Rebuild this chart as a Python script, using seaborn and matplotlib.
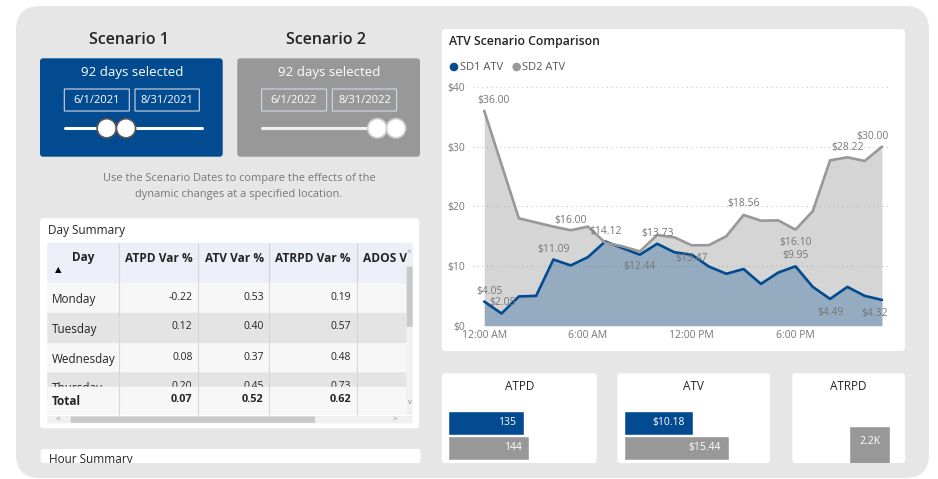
import matplotlib.pyplot as plt
import matplotlib.patches as mpatches
import seaborn as sns
import pandas as pd

# ==================== data ====================
hours = list(range(24))
sd1_atv = [4.05, 2.05, 4.9, 5.0, 11.09, 10.1, 11.5, 14.12, 13.0, 11.9, 13.73, 12.3,
           11.9, 9.9, 8.7, 9.5, 7.0, 8.9, 9.95, 6.5, 4.49, 6.5, 5.0, 4.32]
sd2_atv = [36.00, 27.0, 18.0, 17.3, 16.6, 16.00, 16.6, 13.9, 13.3, 12.44, 15.2, 14.8,
           13.47, 13.5, 15.0, 18.56, 17.6, 17.65, 16.10, 19.2, 27.7, 28.22, 27.6, 30.00]
hour_ticks = [0, 6, 12, 18]
hour_tick_labels = ['12:00 AM', '6:00 AM', '12:00 PM', '6:00 PM']
atv_ticks = [0, 10, 20, 30, 40]

# which points carry a data label: (hour, dx px, dy px)
sd1_labels = [(0, 5, 10), (1, 1, 11), (4, 0, 10), (7, 0, 10), (10, 0, 10),
              (18, 0, 11), (20, 0, -14), (23, -7, -14)]
sd2_labels = [(0, 9, 10), (5, 0, 10), (9, 0, -15), (12, 0, -13), (15, 0, 11),
              (18, 0, -13), (21, 0, 10), (23, -9, 10)]

days = ['Monday', 'Tuesday', 'Wednesday', 'Thursday']
atpd_var = [-0.22, 0.12, 0.08, 0.20]
atv_var = [0.53, 0.40, 0.37, 0.45]
atrpd_var = [0.19, 0.57, 0.48, 0.73]
total_var = [0.07, 0.52, 0.62]
table_cols = ['ATPD Var %', 'ATV Var %', 'ATRPD Var %']

card_series = ['SD1', 'SD2']
atpd_vals = [135, 144]
atv_vals = [10.18, 15.44]
atrpd_sd2 = 2200

BLUE = '#034b90'
GRAY = '#989898'
PANEL = '#e6e6e6'
TXT = '#252423'
MUTED = '#777777'

sns.set_theme(style='white')
plt.rcParams['font.family'] = ['Open Sans', 'DejaVu Sans']

W, H = 938, 479
fig = plt.figure(figsize=(W / 100, H / 100), dpi=100, facecolor='white')

# base axes in pixel coordinates for the dashboard frame
bg = fig.add_axes([0, 0, 1, 1])
bg.set_xlim(0, W)
bg.set_ylim(H, 0)
bg.axis('off')


def box(x0, y0, x1, y1):
    return [x0 / W, 1 - y1 / H, (x1 - x0) / W, (y1 - y0) / H]


def rect(x0, y0, x1, y1, fc, ec='none', lw=0, r=0, z=1):
    p = mpatches.FancyBboxPatch((x0, y0), x1 - x0, y1 - y0,
                                boxstyle=f'round,pad=0,rounding_size={r}',
                                fc=fc, ec=ec, lw=lw, zorder=z)
    bg.add_patch(p)
    return p


def txt(x, y, s, size=8, color=TXT, ha='left', weight='normal', z=5):
    return bg.text(x, y, s, fontsize=size, color=color, ha=ha, va='center',
                   fontweight=weight, zorder=z)


# grey dashboard panel
rect(16, 6, 929, 478, PANEL, r=24, z=0)

# ==================== scenario selectors ====================
scen = [('Scenario 1', 40, BLUE, ['6/1/2021', '8/31/2021'], [106.7, 126], '#555555', 'white'),
        ('Scenario 2', 237.3, GRAY, ['6/1/2022', '8/31/2022'], [377.3, 396], '#cfcfcf', '#f0f0f0')]
for title, x0, fc, dates, thumbs, th_ec, line_c in scen:
    txt(x0 + 89, 39.5, title, size=11.5, ha='center', weight='semibold')
    rect(x0, 58.3, x0 + 182.7, 156.7, fc, r=3, z=1)
    txt(x0 + 91.7, 72.5, '92 days selected', size=9.5, color='white', ha='center')
    for (dx0, dx1), d in zip([(24.3, 89.3), (95, 159.3)], dates):
        rect(x0 + dx0, 89, x0 + dx1, 111, 'none', ec='#d0d8e6', lw=0.8, z=2)
        txt(x0 + (dx0 + dx1) / 2, 100, d, size=8, color='white', ha='center')
    bg.plot([x0 + 25, x0 + 161.7], [128.3, 128.3], color=line_c, lw=2.2, zorder=2,
            solid_capstyle='round')
    for tx in thumbs:
        bg.add_patch(mpatches.Circle((tx, 128.3), 9.6, fc='white', ec=th_ec, lw=1.2, zorder=3))

txt(239, 178.5, 'Use the Scenario Dates to compare the effects of the', size=7.9,
    color=MUTED, ha='center')
txt(239, 194, 'dynamic changes at a specified location.', size=7.9, color=MUTED, ha='center')

# ==================== day summary table ====================
rect(40, 218.3, 419.3, 428.3, 'white', r=4, z=1)
txt(47.7, 230, 'Day Summary', size=8.5)
rect(47.3, 242.7, 412.7, 283.3, '#eceff7', z=2)
row_tops = [283.3, 312.7, 343.3, 372.3]
row_bots = [312.7, 343.3, 372.3, 402]
for i, (d, a, b, c) in enumerate(zip(days, atpd_var, atv_var, atrpd_var)):
    rect(47.3, row_tops[i], 406.7, row_bots[i], '#f7f7f7' if i % 2 == 0 else '#e4e4e4', z=2)
    yc = (row_tops[i] + 15)
    txt(51.7, yc + 1.5, d, size=8.5, z=3)
    for xr, v in zip([192.5, 263.7, 351], [a, b, c]):
        txt(xr, yc - 1, f'{v:.2f}', size=7.5, ha='right', z=3)
# frozen total row
rect(47.3, 386.7, 406.7, 415, '#f7f7f7', z=4)
txt(51.7, 401.5, 'Total', size=8.5, weight='bold', z=5)
for xr, v in zip([192.5, 263.7, 351], total_var):
    txt(xr, 399.5, f'{v:.2f}', size=7.8, ha='right', weight='bold', z=5)
# header text
txt(82.7, 258, 'Day', size=8.5, weight='bold', ha='center', z=5)
txt(58, 271, '▲', size=6, color='black', ha='center', z=5)
for xr, c in zip([192.5, 263.7, 351], table_cols):
    txt(xr, 258, c, size=8.6, weight='bold', ha='right', z=5)
txt(363, 258, 'ADOS V', size=8.6, weight='bold', z=5)
rect(406.7, 242.7, 412.7, 266.7, '#eceff7', z=5.5)
for xs in [119, 198.3, 269.3, 356.7]:
    bg.plot([xs, xs], [242.7, 415], color='#d6d6d6', lw=0.8, zorder=6)
# scrollbars
rect(406.7, 266.7, 412.7, 415, '#f0f0f0', z=6)
rect(406.7, 266.7, 412.7, 326.7, '#c8c8c8', z=7)
txt(409.5, 253, '^', size=6, color='#888888', ha='center', z=7)
txt(409.8, 403, 'v', size=5.5, color='#888888', ha='center', z=7)
rect(47.3, 416, 412.7, 423.3, '#f0f0f0', z=6)
rect(70.7, 416.5, 315, 422.8, '#c8c8c8', z=7)
txt(58, 419.5, '<', size=6, color='#888888', ha='center', z=7)
txt(395, 419.5, '>', size=6, color='#888888', ha='center', z=7)

# hour summary card (cut off by the view)
rect(40.7, 449, 420.7, 463, 'white', r=3, z=1)
hax = fig.add_axes(box(40.7, 449, 420.7, 463))
hax.axis('off')
hax.set_xlim(0, 380)
hax.set_ylim(-14, 0)
hax.text(8, -4.5, 'Hour Summary', fontsize=8.5, color=TXT, va='top', clip_on=True)

# ==================== ATV line chart ====================
rect(441.7, 29, 905, 351, 'white', r=4, z=1)
txt(449.3, 41, 'ATV Scenario Comparison', size=8.8, weight='semibold')
for cx, c, lab in [(454, BLUE, 'SD1 ATV'), (516.7, GRAY, 'SD2 ATV')]:
    bg.add_patch(mpatches.Circle((cx, 67), 4.3, fc=c, ec='none', zorder=5))
    txt(cx + 5.5, 67, lab, size=8, color='#555555')

ax = fig.add_axes(box(473, 87, 888, 325.7))
ax.set_facecolor('none')
df = pd.DataFrame({'hour': hours * 2,
                   'atv': sd1_atv + sd2_atv,
                   'series': ['SD1 ATV'] * 24 + ['SD2 ATV'] * 24})
ax.fill_between(hours, sd2_atv, color=GRAY, alpha=0.4, lw=0, zorder=1)
ax.fill_between(hours, sd1_atv, color=BLUE, alpha=0.3, lw=0, zorder=1.1)
sns.lineplot(data=df, x='hour', y='atv', hue='series',
             palette={'SD1 ATV': BLUE, 'SD2 ATV': GRAY}, linewidth=1.9,
             legend=False, ax=ax, zorder=3)
ax.set_xlim(-0.65, 23.35)
ax.set_ylim(0, 40)
ax.set_yticks(atv_ticks)
ax.set_yticklabels([f'${t}' for t in atv_ticks])
ax.set_xticks(hour_ticks)
ax.set_xticklabels(hour_tick_labels)
ax.tick_params(axis='both', length=0, labelsize=7.5, colors=MUTED)
ax.tick_params(axis='y', pad=6)
ax.tick_params(axis='x', pad=3)
ax.set_xlabel('')
ax.set_ylabel('')
for t in atv_ticks:
    ax.axhline(t, color='#c8c8c8', lw=0.8, ls=(0, (1, 3)), zorder=0.5)
sns.despine(ax=ax, left=True, bottom=True)
for vals, labs in [(sd1_atv, sd1_labels), (sd2_atv, sd2_labels)]:
    for h, dx, dy in labs:
        ax.annotate(f'${vals[h]:.2f}', (h, vals[h]), xytext=(dx, dy),
                    textcoords='offset pixels', ha='center', va='center',
                    fontsize=7.5, color=MUTED, zorder=6, annotation_clip=False)

# ==================== KPI cards ====================
cards = [('ATPD', 441.7, 596.7), ('ATV', 617.3, 770), ('ATRPD', 792.3, 905)]
for name, x0, x1 in cards:
    rect(x0, 373.3, x1, 463, 'white', r=3, z=1)
    txt((x0 + x1) / 2, 386, name, size=8.5, ha='center')


def hbar_card(x0, vals, px_per_unit, fmt):
    a = fig.add_axes(box(x0, 398, x0 + 140, 463))
    a.set_facecolor('none')
    sns.barplot(x=vals, y=card_series, hue=card_series, palette=[BLUE, GRAY],
                orient='h', width=0.97, saturation=1, legend=False, ax=a)
    a.set_xlim(0, 140 / px_per_unit)
    a.set_ylim(1.604, -0.996)
    a.axis('off')
    for i, v in enumerate(vals):
        a.annotate(fmt(v), (v, i), xytext=(-8, 0), textcoords='offset pixels',
                   ha='right', va='center', fontsize=7.5, color='white')


hbar_card(448.3, atpd_vals, 0.5625, lambda v: f'{v:.0f}')
hbar_card(624, atv_vals, 6.8, lambda v: f'${v:.2f}')

a3 = fig.add_axes(box(792.3, 398, 905, 463))
a3.set_facecolor('none')
sns.barplot(x=['SD2'], y=[atrpd_sd2], color=GRAY, width=0.8, saturation=1, ax=a3)
a3.set_xlim(-1.525, 0.695)
a3.set_ylim(1830, 2480)
a3.axis('off')
a3.annotate(f'{atrpd_sd2 / 1000:.1f}K', (0, atrpd_sd2), xytext=(0, -16),
            textcoords='offset pixels', ha='center', va='center', fontsize=7.5,
            color='white')

fig.savefig('out.png', dpi=100)
